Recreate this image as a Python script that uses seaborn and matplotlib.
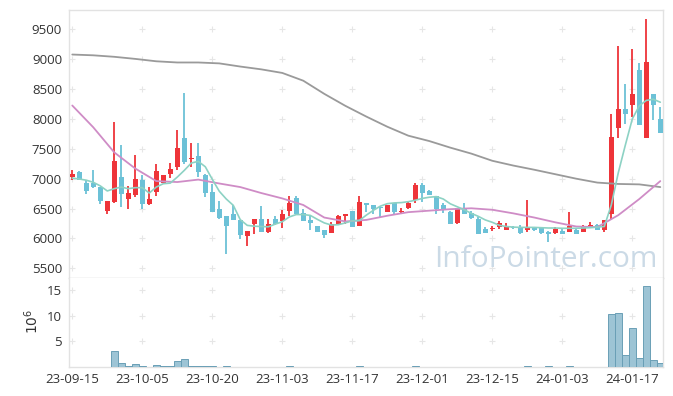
import numpy as np
import pandas as pd
import matplotlib
matplotlib.use("Agg")
import matplotlib.pyplot as plt
import seaborn as sns

# trading sessions (yy-mm-dd)
dates = """
23-09-15 23-09-18 23-09-19 23-09-20 23-09-21 23-09-22 23-09-25 23-09-26 23-09-27 23-10-04
23-10-05 23-10-06 23-10-10 23-10-11 23-10-12 23-10-13 23-10-16 23-10-17 23-10-18 23-10-19
23-10-20 23-10-23 23-10-24 23-10-25 23-10-26 23-10-27 23-10-30 23-10-31 23-11-01 23-11-02
23-11-03 23-11-06 23-11-07 23-11-08 23-11-09 23-11-10 23-11-13 23-11-14 23-11-15 23-11-16
23-11-17 23-11-20 23-11-21 23-11-22 23-11-23 23-11-24 23-11-27 23-11-28 23-11-29 23-11-30
23-12-01 23-12-04 23-12-05 23-12-06 23-12-07 23-12-08 23-12-11 23-12-12 23-12-13 23-12-14
23-12-15 23-12-18 23-12-19 23-12-20 23-12-21 23-12-22 23-12-26 23-12-27 23-12-28 24-01-02
24-01-03 24-01-04 24-01-05 24-01-08 24-01-09 24-01-10 24-01-11 24-01-12 24-01-15 24-01-16
24-01-17 24-01-18 24-01-19 24-01-22 24-01-23
""".split()

open_ = [7027, 7105, 6926, 6926, 6854, 6453, 6603, 7022, 6659, 6721,
         6983, 6582, 6776, 6926, 7072, 7194, 7686, 7323, 7373, 7055,
         6776, 6487, 6370, 6403, 6314, 6035, 6236, 6320, 6107, 6320,
         6286, 6458, 6676, 6426, 6303, 6203, 6136, 6097, 6248, 6375,
         6453, 6203, 6599, 6565, 6526, 6442, 6599, 6442, 6509, 6649,
         6888, 6793, 6704, 6554, 6442, 6264, 6509, 6431, 6331, 6152,
         6152, 6191, 6147, 6190, 6175, 6147, 6191, 6175, 6108, 6091,
         6125, 6108, 6136, 6108, 6175, 6231, 6147, 6415, 7853, 8159,
         8237, 8811, 7686, 8421, 8003]
high = [7150, 7122, 6983, 7139, 6854, 6632, 7946, 7568, 6871, 7390,
        7067, 6860, 7239, 7060, 7260, 7819, 8431, 7590, 7602, 7080,
        6916, 6626, 6370, 6554, 6314, 6125, 6320, 6549, 6320, 6370,
        6482, 6704, 6704, 6498, 6386, 6203, 6136, 6269, 6386, 6403,
        6453, 6704, 6599, 6565, 6526, 6565, 6599, 6509, 6626, 6926,
        6926, 6810, 6704, 6593, 6460, 6509, 6593, 6460, 6360, 6190,
        6203, 6286, 6264, 6210, 6219, 6637, 6200, 6191, 6125, 6191,
        6150, 6442, 6150, 6219, 6275, 6240, 6314, 8087, 9214, 8577,
        9174, 8939, 9676, 8421, 8197]
low = [6983, 6972, 6749, 6849, 6570, 6415, 6592, 6525, 6498, 6700,
       6498, 6554, 6716, 6920, 7017, 7150, 7251, 7194, 7027, 6692,
       6442, 6331, 5734, 6303, 5997, 5868, 6069, 6102, 6091, 6219,
       6181, 6375, 6403, 6292, 6136, 6100, 6007, 6097, 6248, 6248,
       6191, 6203, 6442, 6415, 6359, 6442, 6415, 6403, 6487, 6592,
       6609, 6720, 6415, 6431, 6248, 6250, 6415, 6330, 6080, 6091,
       6125, 6164, 6136, 6150, 6080, 6108, 6120, 6080, 5940, 6070,
       6070, 6100, 6070, 6100, 6170, 6147, 6108, 6331, 7686, 7920,
       8030, 7891, 7686, 7975, 7769]
close = [7084, 6983, 6793, 6860, 6626, 6620, 7289, 6743, 6759, 6988,
         6582, 6654, 7122, 7055, 7155, 7507, 7278, 7351, 7105, 6759,
         6442, 6341, 6208, 6303, 6052, 6119, 6320, 6102, 6236, 6248,
         6415, 6587, 6403, 6292, 6258, 6107, 6064, 6248, 6370, 6403,
         6191, 6604, 6565, 6487, 6509, 6565, 6442, 6453, 6593, 6888,
         6760, 6733, 6498, 6470, 6248, 6509, 6415, 6342, 6080, 6097,
         6164, 6258, 6208, 6175, 6091, 6175, 6136, 6091, 6069, 6164,
         6080, 6203, 6080, 6203, 6231, 6147, 6314, 7696, 8159, 8087,
         8421, 7891, 8960, 8237, 7769]
# volume in 10^6 shares
volume = [0.03, 0.03, 0.03, 0.03, 0.03, 0.03, 3.1, 0.77, 0.26, 0.65,
          0.26, 0.05, 0.45, 0.25, 0.25, 1.2, 1.6, 0.2, 0.2, 0.2,
          0.2, 0.05, 0.2, 0.05, 0.05, 0.05, 0.05, 0.05, 0.05, 0.05,
          0.05, 0.2, 0.05, 0.05, 0.05, 0.05, 0.05, 0.05, 0.05, 0.05,
          0.05, 0.2, 0.05, 0.05, 0.05, 0.05, 0.05, 0.05, 0.05, 0.2,
          0.05, 0.05, 0.05, 0.05, 0.05, 0.05, 0.05, 0.05, 0.05, 0.05,
          0.05, 0.05, 0.05, 0.05, 0.05, 0.2, 0.05, 0.05, 0.2, 0.05,
          0.05, 0.2, 0.05, 0.05, 0.05, 0.05, 0.05, 10.26, 10.45, 2.39,
          7.55, 1.74, 15.74, 1.35, 0.84]

# short moving average, every session
ma_short = [7010, 6995, 6975, 6940, 6880, 6795, 6833, 6860, 6833, 6850,
            6850, 6760, 6860, 6916, 6926, 7027, 7139, 7262, 7290, 7200,
            6990, 6790, 6660, 6554, 6314, 6219, 6205, 6200, 6195, 6240,
            6280, 6360, 6400, 6400, 6386, 6320, 6260, 6225, 6230, 6260,
            6295, 6300, 6390, 6470, 6540, 6582, 6595, 6600, 6615, 6640,
            6670, 6690, 6700, 6660, 6580, 6530, 6480, 6420, 6370, 6310,
            6270, 6220, 6200, 6190, 6185, 6185, 6185, 6180, 6175, 6175,
            6170, 6170, 6170, 6175, 6180, 6190, 6200, 6560, 7100, 7560,
            8000, 8220, 8310, 8330, 8280]
# medium / long moving averages, read every third session
ma_mid = [8225, 7860, 7440, 7170, 6960, 6944, 6985, 6920, 6860, 6760,
          6670, 6560, 6350, 6285, 6310, 6380, 6440, 6465, 6490, 6505,
          6480, 6420, 6350, 6270, 6200, 6190, 6390, 6660, 6960]
ma_long = [9078, 9065, 9040, 9005, 8965, 8945, 8945, 8930, 8877, 8830,
           8770, 8640, 8420, 8220, 8040, 7870, 7720, 7630, 7520, 7420,
           7300, 7220, 7150, 7075, 7000, 6935, 6912, 6905, 6860]

tick_dates = ["23-09-15", "23-10-05", "23-10-20", "23-11-03", "23-11-17",
              "23-12-01", "23-12-15", "24-01-03", "24-01-17"]
price_ticks = [5500, 6000, 6500, 7000, 7500, 8000, 8500, 9000, 9500]
volume_ticks = [5, 10, 15]

RED = "#ee3439"
BLUE = "#6cc1d7"
GRID = "#e6e6e6"
SPINE = "#e2e2e2"
TXT = "#333333"

sns.set_theme(style="white")
plt.rcParams["font.family"] = ["Open Sans", "DejaVu Sans"]

df = pd.DataFrame({"date": dates, "open": open_, "high": high,
                   "low": low, "close": close, "volume": volume,
                   "ma_short": ma_short})
df["pos"] = np.arange(len(df))
up = df["close"] >= df["open"]
colors = np.where(up, RED, BLUE)
body_lo = np.minimum(df["open"], df["close"])
body_h = np.maximum((df["close"] - df["open"]).abs(), 18)

mid_pos = df["pos"].values[::3]
tick_pos = [dates.index(d) for d in tick_dates]

fig = plt.figure(figsize=(6.73, 3.96), dpi=100)
ax = fig.add_axes([0.1025, 0.2972, 0.8831, 0.6775])
axv = fig.add_axes([0.1025, 0.0725, 0.8831, 0.2247])

xlim = (-0.47, 84.43)

# grid crosses
gx, gy = np.meshgrid(tick_pos, price_ticks)
ax.plot(gx.ravel(), gy.ravel(), ls="none", marker="+", ms=4, mew=0.8,
        color=GRID, zorder=1)
ax.text(0.99, 0.015, "InfoPointer.com", transform=ax.transAxes,
        ha="right", va="bottom", fontsize=21.5, color="#cbdae6", zorder=1)

# candles
ax.vlines(df["pos"], df["low"], df["high"], colors=colors, linewidth=1.3,
          zorder=2)
ax.bar(df["pos"], body_h, bottom=body_lo, width=0.72, color=colors,
       linewidth=0, zorder=3)

# moving averages
sns.lineplot(x=mid_pos, y=ma_long, ax=ax, color="#9a9a9a", linewidth=1.3,
             zorder=4)
sns.lineplot(x=mid_pos, y=ma_mid, ax=ax, color="#cf8cc6", linewidth=1.3,
             zorder=4)
sns.lineplot(data=df, x="pos", y="ma_short", ax=ax, color="#8dd2c4",
             linewidth=1.2, zorder=5)

ax.set_xlim(*xlim)
ax.set_ylim(5333, 9823)
ax.set_yticks(price_ticks)
ax.set_yticklabels([str(v) for v in price_ticks])
ax.set_xticks(tick_pos)
ax.set_xticklabels([])
ax.set_xlabel("")
ax.set_ylabel("")
ax.tick_params(length=0, labelsize=9.5, colors=TXT, pad=5)
for s in ax.spines.values():
    s.set_color(SPINE)
    s.set_linewidth(1)
ax.spines["bottom"].set_color("#d6d6d6")

# volume
gx, gy = np.meshgrid(tick_pos, volume_ticks)
axv.plot(gx.ravel(), gy.ravel(), ls="none", marker="+", ms=4, mew=0.8,
         color=GRID, zorder=1)
sns.barplot(data=df, x="pos", y="volume", ax=axv, native_scale=True,
            width=1.0, color="#9dc4d5", edgecolor="#6a9fb6", linewidth=0.7,
            saturation=1, errorbar=None, zorder=3)
axv.set_xlim(*xlim)
axv.set_ylim(0, 17.2)
axv.set_yticks(volume_ticks)
axv.set_yticklabels([str(v) for v in volume_ticks])
axv.set_xticks(tick_pos)
axv.set_xticklabels(tick_dates)
axv.set_xlabel("")
axv.set_ylabel("")
axv.tick_params(length=0, labelsize=9.5, colors=TXT, pad=5)
axv.tick_params(axis="x", pad=4)
for s in axv.spines.values():
    s.set_color(SPINE)
    s.set_linewidth(1)
axv.spines["top"].set_visible(False)

fig.text(32.5 / 673, 1 - 321 / 396, r"$10^6$", rotation=90, ha="center",
         va="center", fontsize=10, color=TXT)

fig.savefig("out.png", dpi=100)
